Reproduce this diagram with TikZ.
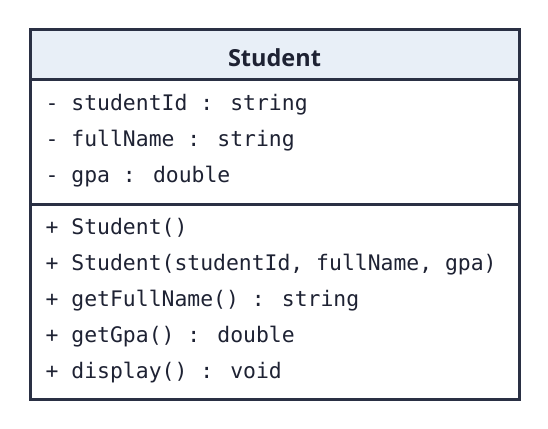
\documentclass[tikz,border=0pt]{standalone}
\usepackage{fontspec}
\setmainfont{Open Sans}
\newfontfamily\monofont{DejaVu Sans Mono}
\newfontfamily\titlefont{Open Sans}
\definecolor{bordercol}{HTML}{2A3044}
\definecolor{headfill}{HTML}{E8EFF7}
\definecolor{textcol}{HTML}{1E2233}
\begin{document}
\begin{tikzpicture}[x=1pt,y=-1pt,
  member/.style={anchor=base west,inner sep=0pt,text=textcol,font=\monofont\fontsize{21.4}{24}\selectfont},
  titletext/.style={anchor=base,inner sep=0pt,text=textcol,font=\titlefont\bfseries\fontsize{23.5}{28}\selectfont},
  frame/.style={draw=bordercol,line width=3pt}]
\useasboundingbox (0,0) rectangle (548,428);
\fill[white] (0,0) rectangle (548,428);
\fill[headfill] (30,29.5) rectangle (519.5,79.3);
\draw[frame] (30,29.5) rectangle (519.5,399);
\draw[frame] (30,79.3) -- (519.5,79.3);
\draw[frame] (30,204) -- (519.5,204);
\node[titletext] (title) at (274.5,66.5) {Student};
\node[member] (a1) at (45.5,110) {- studentId : string};
\node[member] (a2) at (45.5,146) {- fullName : string};
\node[member] (a3) at (45.5,182) {- gpa : double};
\node[member] (m1) at (45.5,234) {+ Student()};
\node[member] (m2) at (45.5,270) {+ Student(studentId, fullName, gpa)};
\node[member] (m3) at (45.5,306) {+ getFullName() : string};
\node[member] (m4) at (45.5,342) {+ getGpa() : double};
\node[member] (m5) at (45.5,378) {+ display() : void};
\end{tikzpicture}
\end{document}
